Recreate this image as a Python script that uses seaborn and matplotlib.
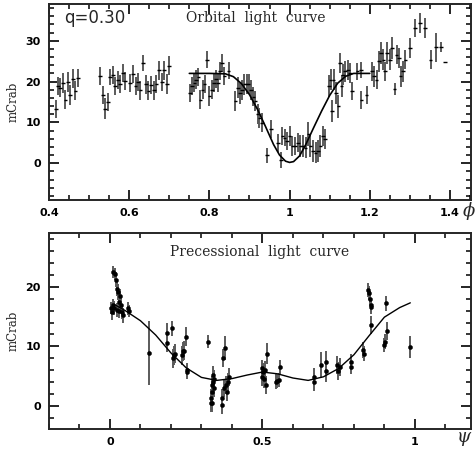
import numpy as np
import pandas as pd
import matplotlib
matplotlib.use("Agg")
import matplotlib.pyplot as plt
import seaborn as sns
from matplotlib.ticker import MultipleLocator

# ---------------- data: orbital light curve ----------------
orb_phase = [0.417, 0.4225, 0.428, 0.435, 0.441, 0.4475, 0.453, 0.460, 0.466, 0.4725,
             0.5275, 0.534, 0.540, 0.547, 0.5525, 0.559, 0.565, 0.572, 0.5775, 0.584,
             0.590, 0.6025, 0.609, 0.616, 0.622, 0.628, 0.635, 0.642, 0.648, 0.655,
             0.662, 0.668, 0.675, 0.682, 0.6875, 0.694, 0.700,
             0.752, 0.757, 0.7625, 0.767, 0.7725, 0.7775, 0.783, 0.788, 0.794, 0.800,
             0.806, 0.812, 0.817, 0.822, 0.827, 0.832, 0.8375, 0.848,
             0.865, 0.871, 0.877, 0.882, 0.8875, 0.893, 0.898, 0.904, 0.910, 0.915,
             0.921, 0.925, 0.931, 0.944, 0.954, 0.971, 0.978, 0.982, 0.9875, 0.993,
             1.000, 1.007, 1.014, 1.021, 1.027, 1.033, 1.040, 1.047, 1.052, 1.058,
             1.065, 1.071, 1.077, 1.083, 1.089,
             1.098, 1.1025, 1.106, 1.110, 1.116, 1.122, 1.126, 1.130, 1.134, 1.139,
             1.145, 1.150, 1.156, 1.169, 1.1775, 1.179, 1.192,
             1.206, 1.211, 1.217, 1.2225, 1.2275, 1.234, 1.238, 1.243, 1.250, 1.256,
             1.262, 1.267, 1.2725, 1.277, 1.283, 1.289, 1.300, 1.3125, 1.325, 1.338,
             1.352, 1.365, 1.377, 1.3875]
orb_flux = [13.2, 19.0, 18.5, 19.6, 15.6, 19.9, 16.7, 20.7, 17.8, 20.9,
            21.3, 16.8, 13.4, 15.0, 21.2, 21.5, 18.9, 20.4, 19.5, 22.1,
            20.2, 19.7, 21.8, 18.9, 19.8, 17.9, 24.6, 19.3, 17.8, 19.1,
            17.9, 19.5, 22.8, 19.9, 22.8, 19.4, 23.9,
            17.2, 18.9, 19.7, 20.5, 21.1, 15.6, 18.0, 19.5, 25.4, 16.4,
            18.0, 19.7, 20.7, 19.7, 22.5, 24.6, 21.3, 22.7,
            15.2, 18.5, 17.1, 18.0, 19.3, 19.4, 19.4, 18.0, 16.3, 15.2,
            12.0, 11.1, 9.9, 1.9, 8.4, 4.9, 0.8, 6.7, 6.3, 5.4,
            6.7, 4.2, 4.2, 5.0, 4.2, 4.2, 3.8, 7.1, 4.2, 3.0,
            2.6, 3.0, 4.2, 6.7, 5.9,
            18.9, 20.5, 12.8, 20.5, 17.2, 14.0, 24.6, 18.9, 21.7, 22.5,
            22.9, 22.1, 17.6, 22.5, 22.9, 15.4, 16.6,
            22.5, 21.3, 20.5, 25.0, 27.0, 25.4, 22.5, 27.0, 25.4, 28.2,
            18.2, 26.6, 25.8, 21.3, 22.5, 25.4, 28.2, 33.1, 34.3, 33.1,
            25.4, 28.4, 28.4, 24.7]
orb_err = [2.2, 2.2, 2.4, 2.5, 2.4, 2.4, 2.5, 2.3, 2.4, 2.2,
           2.2, 2.2, 2.5, 2.2, 2.0, 2.2, 2.3, 2.3, 2.2, 2.3,
           2.2, 2.2, 2.2, 2.2, 2.2, 2.3, 2.0, 2.3, 2.3, 2.2,
           2.3, 2.2, 2.3, 2.3, 2.3, 2.4, 2.3,
           2.3, 2.3, 2.2, 2.3, 2.2, 2.3, 2.3, 2.2, 2.0, 2.4,
           2.3, 2.3, 2.2, 2.2, 2.2, 2.2, 2.2, 2.0,
           2.5, 2.5, 2.5, 2.5, 2.5, 2.5, 2.5, 2.5, 2.4, 2.4,
           2.4, 2.4, 2.3, 1.8, 2.2, 2.2, 2.0, 2.2, 2.2, 2.2,
           2.4, 2.4, 2.3, 2.3, 2.6, 2.6, 2.6, 3.0, 2.6, 2.8,
           2.6, 2.6, 2.6, 2.4, 2.4,
           2.6, 2.6, 2.8, 2.6, 2.6, 2.8, 2.4, 2.6, 2.6, 2.6,
           2.4, 2.4, 2.2, 2.0, 2.0, 2.2, 2.2,
           2.4, 2.6, 2.4, 2.6, 2.6, 2.6, 2.4, 2.6, 2.6, 2.6,
           1.5, 2.4, 2.4, 2.6, 2.6, 2.4, 2.4, 2.2, 2.4, 2.4,
           2.4, 3.6, 1.2, 0.2]

orb_model_phase = [0.75, 0.80, 0.84, 0.86, 0.88, 0.90, 0.92, 0.94, 0.96, 0.975,
                   0.99, 1.0, 1.01, 1.025, 1.04, 1.06, 1.08, 1.10, 1.12, 1.14,
                   1.16, 1.20]
orb_model_flux = [22.0, 22.0, 21.9, 21.2, 19.5, 16.8, 13.2, 9.0, 4.6, 2.0,
                  0.5, 0.2, 0.4, 1.8, 4.5, 8.7, 12.8, 16.6, 19.6, 21.3,
                  22.0, 22.0]

# ---------------- data: precessional light curve ----------------
prec_phase = [0.003, 0.009, 0.011, 0.016, 0.019, 0.022, 0.024, 0.027, 0.029, 0.031,
              0.033, 0.036, 0.039, 0.042, 0.006, 0.013, 0.060, 0.062,
              0.128, 0.186, 0.187, 0.205, 0.208, 0.210, 0.213, 0.235, 0.240, 0.243,
              0.249, 0.251, 0.253, 0.322,
              0.330, 0.332, 0.334, 0.336, 0.338, 0.340, 0.342, 0.335, 0.337,
              0.366, 0.368, 0.372, 0.374, 0.377, 0.380, 0.383, 0.386, 0.389,
              0.503, 0.497, 0.500, 0.505, 0.507, 0.511, 0.514, 0.544, 0.549, 0.553, 0.557,
              0.669, 0.670, 0.692, 0.707, 0.710, 0.745, 0.748, 0.754, 0.789, 0.791,
              0.830, 0.832, 0.847, 0.850, 0.855, 0.857, 0.856, 0.852,
              0.900, 0.902, 0.905, 0.907, 0.984]
prec_flux = [16.5, 17.0, 22.5, 22.2, 21.2, 19.7, 16.1, 19.1, 17.5, 15.9,
             18.4, 17.0, 15.8, 15.2, 15.7, 16.4, 16.4, 16.0,
             8.9, 12.3, 10.5, 13.0, 8.0, 8.5, 8.8, 8.5, 9.2, 9.3,
             11.6, 6.0, 5.7, 10.8,
             0.45, 1.3, 2.4, 3.5, 4.1, 3.0, 4.6, 0.45, 5.2,
             0.2, 1.3, 8.0, 3.0, 9.7, 3.5, 2.4, 4.1, 4.9,
             5.75, 4.9, 6.3, 4.6, 6.0, 3.5, 8.8, 4.1, 4.2, 4.4, 6.6,
             4.1, 4.9, 6.9, 7.4, 5.9, 6.9, 5.9, 6.6, 7.4, 6.6,
             9.4, 8.8, 19.4, 18.9, 16.9, 16.6, 13.6, 18.0,
             10.2, 10.8, 17.2, 12.6, 9.9]
prec_err = [1.0, 1.0, 1.0, 1.0, 1.2, 1.3, 1.2, 1.3, 1.2, 1.2,
            1.3, 1.2, 1.2, 1.3, 1.2, 1.2, 1.1, 1.0,
            5.4, 1.6, 1.5, 1.2, 1.6, 1.6, 1.6, 1.6, 1.6, 1.6,
            1.6, 1.2, 1.2, 1.1,
            1.5, 1.5, 1.5, 1.5, 1.5, 1.5, 1.5, 1.5, 1.5,
            1.5, 1.5, 1.5, 1.5, 2.0, 1.5, 1.5, 1.5, 1.5,
            1.5, 1.5, 1.5, 1.5, 1.5, 1.5, 1.8, 1.2, 1.2, 1.2, 1.2,
            1.5, 1.5, 2.2, 1.8, 1.8, 1.5, 1.5, 1.5, 1.3, 1.3,
            1.3, 1.3, 1.2, 1.2, 1.2, 1.2, 1.5, 1.2,
            1.2, 1.2, 1.2, 1.5, 1.8]

prec_model_phase = [0.015, 0.05, 0.10, 0.15, 0.20, 0.25, 0.30, 0.35, 0.40, 0.45,
                    0.50, 0.55, 0.60, 0.65, 0.70, 0.75, 0.80, 0.85, 0.90, 0.95,
                    0.985]
prec_model_flux = [17.0, 16.0, 14.3, 11.9, 8.9, 6.4, 4.8, 4.3, 4.6, 5.2,
                   5.7, 5.4, 4.7, 4.3, 4.9, 6.3, 8.6, 11.8, 14.9, 16.5,
                   17.3]

orb_xticks = [0.4, 0.6, 0.8, 1.0, 1.2, 1.4]
orb_xlabels = ["0.4", "0.6", "0.8", "1", "1.2", "1.4"]
orb_yticks = [0, 10, 20, 30]
orb_ylabels = ["0", "10", "20", "30"]
prec_xticks = [0, 0.5, 1.0]
prec_xlabels = ["0", "0.5", "1"]
prec_yticks = [0, 10, 20]
prec_ylabels = ["0", "10", "20"]

orb = pd.DataFrame({"phase": orb_phase, "flux": orb_flux, "err": orb_err})
orb_mod = pd.DataFrame({"phase": orb_model_phase, "flux": orb_model_flux})
prec = pd.DataFrame({"phase": prec_phase, "flux": prec_flux, "err": prec_err})
prec_mod = pd.DataFrame({"phase": prec_model_phase, "flux": prec_model_flux})

sns.set_theme(style="ticks")
plt.rcParams["font.family"] = ["DejaVu Sans"]

fig = plt.figure(figsize=(4.77, 4.49), dpi=100)
ax1 = fig.add_axes([0.1027, 0.5546, 0.8847, 0.4365])
ax2 = fig.add_axes([0.1027, 0.0445, 0.8847, 0.4365])

errc = "#5a5a5a"

# ---- top panel ----
ax1.errorbar(orb["phase"], orb["flux"], yerr=orb["err"], fmt="none",
             ecolor=errc, elinewidth=1.4, capsize=0)
ax1.errorbar(orb["phase"], orb["flux"], xerr=0.0045, fmt="none",
             ecolor="black", elinewidth=1.0, capsize=0)
sns.lineplot(data=orb_mod, x="phase", y="flux", ax=ax1, color="black",
             lw=1.2, sort=False, estimator=None)
ax1.set_xlim(0.4, 1.4525)
ax1.set_ylim(-9, 39)
ax1.set_xticks(orb_xticks)
ax1.set_xticklabels(orb_xlabels, fontweight="bold")
ax1.set_yticks(orb_yticks)
ax1.set_yticklabels(orb_ylabels, fontweight="bold")
ax1.xaxis.set_minor_locator(MultipleLocator(0.05))
ax1.yaxis.set_minor_locator(MultipleLocator(2))
ax1.text(0.035, 0.93, "q=0.30", transform=ax1.transAxes, fontsize=12,
         ha="left", va="center", family="DejaVu Sans")
ax1.text(0.49, 0.93, "Orbital  light  curve", transform=ax1.transAxes,
         fontsize=10, ha="center", va="center", family="DejaVu Serif")

# ---- bottom panel ----
ax2.errorbar(prec["phase"], prec["flux"], yerr=prec["err"], fmt="none",
             ecolor=errc, elinewidth=1.4, capsize=0)
sns.scatterplot(data=prec, x="phase", y="flux", ax=ax2, color="black",
                s=9, edgecolor="black", linewidth=0.3, zorder=3)
sns.lineplot(data=prec_mod, x="phase", y="flux", ax=ax2, color="black",
             lw=1.0, sort=False, estimator=None)
ax2.set_xlim(-0.2, 1.184)
ax2.set_ylim(-3.85, 29)
ax2.set_xticks(prec_xticks)
ax2.set_xticklabels(prec_xlabels, fontweight="bold")
ax2.set_yticks(prec_yticks)
ax2.set_yticklabels(prec_ylabels, fontweight="bold")
ax2.xaxis.set_minor_locator(MultipleLocator(0.1))
ax2.yaxis.set_minor_locator(MultipleLocator(2))
ax2.text(0.5, 0.905, "Precessional  light  curve", transform=ax2.transAxes,
         fontsize=10, ha="center", va="center", family="DejaVu Serif")

for ax in (ax1, ax2):
    ax.set_xlabel("")
    ax.set_ylabel("mCrab", fontsize=8.5, family="DejaVu Serif", labelpad=4)
    ax.tick_params(which="both", direction="in", top=True, right=True,
                   colors="black", zorder=5)
    ax.tick_params(which="major", length=7, width=1.2, labelsize=8, pad=6)
    ax.tick_params(which="minor", length=3.5, width=1.1)
    for sp in ax.spines.values():
        sp.set_linewidth(1.4)

fig.text(469 / 477, 1 - 211 / 449, "\u03d5", fontsize=13, ha="center",
         va="center", family="DejaVu Serif", style="italic")
fig.text(464 / 477, 1 - 437 / 449, "\u03c8", fontsize=13, ha="center",
         va="center", family="DejaVu Serif", style="italic")

fig.savefig("out.png", dpi=100)
